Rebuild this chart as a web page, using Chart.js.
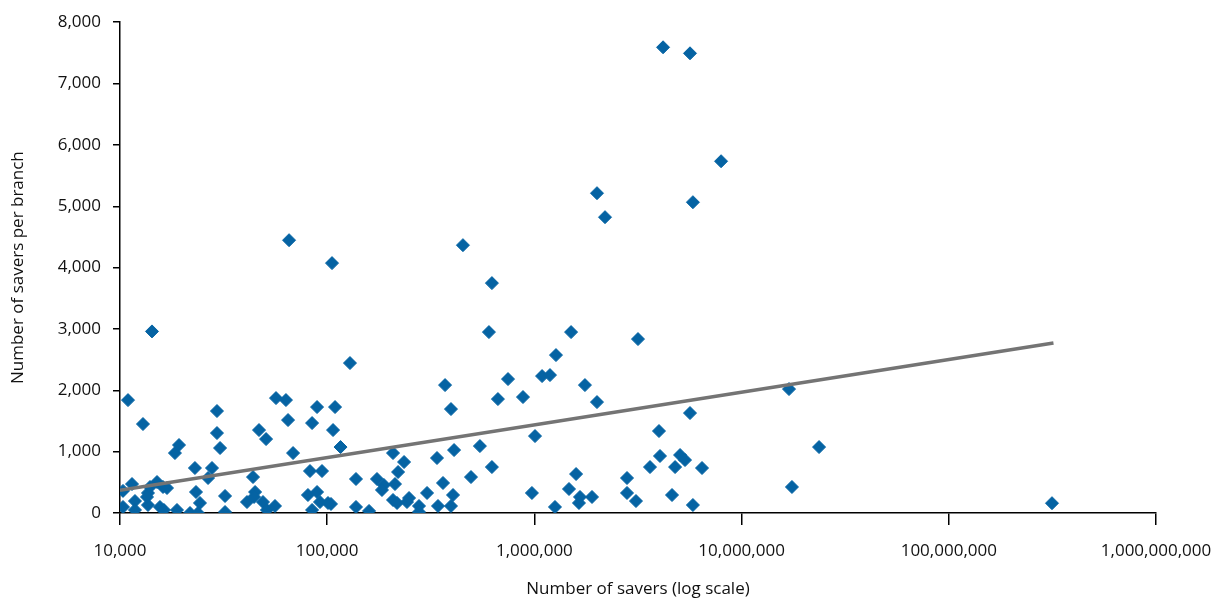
<!DOCTYPE html>
<html>
<head>
<meta charset="utf-8">
<script src="https://cdn.jsdelivr.net/npm/chart.js@4"></script>
<style>
html, body { margin: 0; padding: 0; background: #fff; }
#wrap { width: 1216px; height: 601px; }
</style>
</head>
<body>
<div id="wrap"><canvas id="chart" width="1216" height="601"></canvas></div>
<script>
// Number of savers (log x) and savers per branch (y)
const savers = [
    10930, 10340, 10340, 11430, 11810, 11810, 12910, 13650, 13650, 13960,
    13500, 15090, 16130, 16860, 15590, 16300, 18420, 19270, 18840, 21770,
    23000, 23270, 24320, 23780, 26600, 27800, 29380, 29380, 30400, 32130,
    32130, 41020, 43850, 44870, 44360, 48980, 51180, 55980, 46880, 50700,
    56620, 63240, 64710, 68420, 84530, 89330, 82600, 94400, 80750, 89330,
    84530, 92300, 100900, 104300, 106700, 109100, 116000, 14270, 65460, 105500,
    128800, 137700, 137700, 159200, 173900, 187900, 183800, 212400, 219800, 234900,
    207800, 207800, 217300, 242700, 248300, 277400, 277400, 303300, 338800, 342600,
    362200, 370500, 395700, 409500, 404800, 395700, 494300, 545800, 623700, 666800,
    745900, 881000, 1007000, 973000, 1089000, 1189000, 1257000, 452000, 603400, 623700,
    1589000, 1469000, 1660000, 1641000, 1897000, 1754000, 2005000, 2799000, 2799000, 3092000,
    3614000, 3993000, 4038000, 4775000, 5047000, 5333000, 4615000, 5821000, 6442000, 5636000,
    16940000, 23650000, 17500000, 1271000, 1503000, 2005000, 2192000, 3162000, 4178000, 5636000,
    5821000, 7962000, 314800000
];
const perBranch = [
    1840, 360, 98, 472, 195, 49, 1450, 326, 130, 424,
    261, 505, 424, 407, 98, 49, 977, 1108, 49, 0,
    733, 342, 163, 0, 570, 733, 1662, 1303, 1059, 277,
    16, 179, 586, 342, 261, 179, 49, 114, 1352, 1205,
    1873, 1841, 1515, 977, 1466, 1727, 684, 684, 293, 342,
    49, 179, 163, 147, 1352, 1727, 1075, 2960, 4447, 4073,
    2444, 554, 98, 33, 554, 456, 375, 472, 668, 831,
    977, 212, 163, 179, 244, 114, 16, 326, 896, 114,
    489, 2085, 1694, 1026, 293, 114, 586, 1091, 749, 1857,
    2183, 1890, 1254, 326, 2232, 2248, 98, 4366, 2949, 3747,
    635, 391, 261, 163, 261, 2085, 1808, 570, 326, 195,
    749, 1336, 929, 749, 945, 863, 293, 130, 733, 1629,
    2020, 1075, 424, 2574, 2949, 5213, 4822, 2835, 7591, 7493,
    5066, 5734, 160
];

// trend line end points
const trendX = [10000, 320000000];
const trendY = [370, 2770];

const xTicks = [1e4, 1e5, 1e6, 1e7, 1e8, 1e9];
const yMax = 8000;
const yStep = 1000;

const fontFamily = "'Open Sans', 'Noto Sans', sans-serif";

const points = savers.map((x, i) => ({ x: x, y: perBranch[i] }));
const trend = trendX.map((x, i) => ({ x: x, y: trendY[i] }));

new Chart(document.getElementById('chart'), {
    type: 'scatter',
    data: {
        datasets: [{
            data: points,
            pointStyle: 'rectRot',
            pointRadius: 6.5,
            pointBorderWidth: 1,
            backgroundColor: '#0563a3',
            borderColor: '#0563a3',
            order: 2
        }, {
            type: 'line',
            data: trend,
            borderColor: '#747474',
            borderWidth: 3.5,
            pointRadius: 0,
            fill: false,
            order: 1
        }]
    },
    options: {
        responsive: false,
        animation: false,
        layout: { padding: { left: 6, right: 60, top: 22, bottom: 0 } },
        plugins: {
            legend: { display: false },
            tooltip: { enabled: false }
        },
        scales: {
            x: {
                type: 'logarithmic',
                min: 1e4,
                max: 1e9,
                afterBuildTicks: function(scale) {
                    scale.ticks = xTicks.map(v => ({ value: v }));
                },
                afterFit: function(scale) {
                    scale.height = 88;
                    scale.paddingRight = 0;
                },
                grid: {
                    display: true,
                    drawOnChartArea: false,
                    drawTicks: true,
                    tickLength: 12,
                    color: '#000',
                    lineWidth: 1.5
                },
                border: { display: true, color: '#000', width: 1.5 },
                ticks: {
                    color: '#111',
                    padding: 16,
                    maxRotation: 0,
                    autoSkip: false,
                    font: { family: fontFamily, size: 17 },
                    callback: v => Number(v).toLocaleString('en-US')
                },
                title: {
                    display: true,
                    text: 'Number of savers (log scale)',
                    color: '#111',
                    padding: { top: 4, bottom: 2 },
                    font: { family: fontFamily, size: 17 }
                }
            },
            y: {
                min: 0,
                max: yMax,
                afterFit: function(scale) { scale.width = 114; },
                grid: {
                    display: true,
                    drawOnChartArea: false,
                    drawTicks: true,
                    tickLength: 7,
                    color: '#000',
                    lineWidth: 1.5
                },
                border: { display: true, color: '#000', width: 1.5 },
                ticks: {
                    stepSize: yStep,
                    color: '#111',
                    padding: 12,
                    font: { family: fontFamily, size: 17 },
                    callback: v => Number(v).toLocaleString('en-US')
                },
                title: {
                    display: true,
                    text: 'Number of savers per branch',
                    color: '#111',
                    padding: { top: 2, bottom: 4 },
                    font: { family: fontFamily, size: 17 }
                }
            }
        }
    }
});
</script>
</body>
</html>
